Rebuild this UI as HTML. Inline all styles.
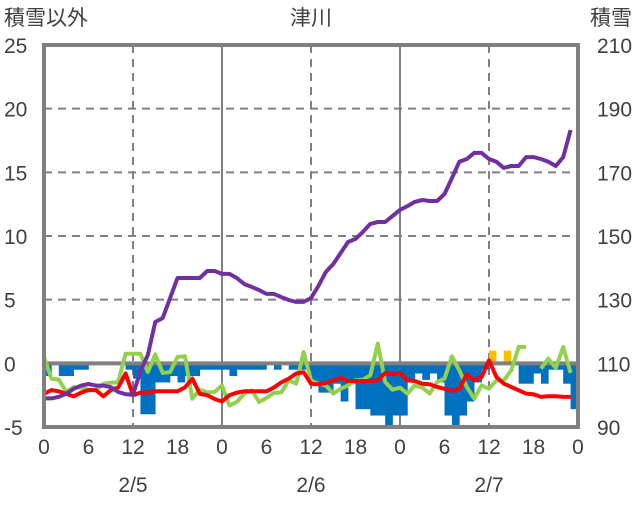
<!DOCTYPE html>
<html><head><meta charset="utf-8"><style>
body{margin:0;background:#fff}
svg text{font-family:"Liberation Sans","Noto Sans CJK JP",sans-serif;fill:#404040;font-size:21px}
</style></head><body>
<svg id="chart" width="636" height="501" xmlns="http://www.w3.org/2000/svg"></svg>
<script>
const hours = Array.from({length:72},(_,i)=>i);
const leftTicks = [-5,0,5,10,15,20,25];
const rightTicks = [90,110,130,150,170,190,210];
const hourLabels = ["0","6","12","18","0","6","12","18","0","6","12","18","0"];
const dateLabels = ["2/5","2/6","2/7"];
const snowDepth = [99,99,99.5,100.5,102,103,103.5,103,103,102.5,101,100.3,100.1,107.5,112.6,123,124.2,130.5,136.8,136.8,136.8,136.8,139,139,138.1,138.1,136.8,134.9,134,133,131.8,131.8,130.8,129.9,129.3,129.3,130.5,134.3,138.7,141.2,144.7,148.1,149.1,151.3,153.8,154.4,154.4,156.3,158.2,159.4,160.7,161.3,161,161,163.2,168.2,173.3,174.2,176.1,176.1,174.2,173.3,171.4,172,172,174.8,174.8,174.2,173.3,172,174.8,183.3];
const temperature = [-2.4,-2.1,-2.2,-2.4,-2.6,-2.3,-2.1,-2.1,-2.6,-2.1,-1.9,-0.8,-2.5,-2.3,-2.3,-2.2,-2.2,-2.2,-2.2,-1.9,-1.2,-2.4,-2.5,-2.8,-3.0,-2.5,-2.3,-2.2,-2.2,-2.2,-2.2,-1.9,-1.5,-1.2,-0.8,-0.7,
-1.6,-1.65,-1.55,-1.34,-1.15,-1.39,-1.39,-1.39,-1.39,-1.34,-0.76,-0.87,-0.76,-1.34,-1.39,-1.6,-1.65,-1.86,-2.0,-2.17,-2.0,-0.87,-1.34,-1.07,0.24,-1.07,-1.6,-1.86,-2.12,-2.38,-2.43,-2.64,-2.59,-2.59,-2.64,-2.64];
const greenSeries = [0.5,-1.2,-1.28,-2.25,-1.86,-1.91,-2.07,-2.12,-1.6,-1.52,-1.47,0.76,0.76,0.76,-0.68,0.71,-0.76,-0.68,0.5,0.55,-2.77,-2.07,-2.28,-2.25,-1.73,-3.3,-3.04,-2.38,-2.12,-3.04,-2.72,-2.33,-2.28,-1.34,-1.6,0.89,
-1.34,-1.6,-1.73,-2.38,-1.99,-1.73,-1.34,-1.28,-0.94,1.55,-1.47,-2.07,-1.91,-2.38,-1.73,-1.91,-2.38,-1.47,-1.2,0.55,-0.55,-1.86,-2.77,-1.73,-1.99,-1.34,-1.34,-0.55,1.28,1.28,null,-0.42,0.37,-0.35,1.28,-0.76];
const snowChange = [-1,0,-1,-1,-0.5,-0.5,0,0,0,0,0,-0.5,-1.2,-4,-4,-1.5,-1.5,-1,-1.5,-1,-1,-0.5,-0.5,-0.5,-0.5,-1,-0.5,-0.5,-0.5,-0.5,0,-0.5,0,-0.5,-0.5,-0.5,
-1.6,-2.3,-2.3,-1.6,-3,-1.6,-3.6,-3.6,-4.1,-4.1,-5.5,-4.1,-4.1,-1.3,-0.8,-1.3,-0.8,-1.5,-4.1,-4.9,-4.1,-3,-1.5,-0.5,0,0,0,0,-1.6,-1.6,-0.8,-1.6,-0.5,-0.5,-1.6,-3.6];
const snowfall = [0,0,0,0,0,0,0,0,0,0,0,0,0,0,0,0,0,0,0,0,0,0,0,0,0,0,0,0,0,0,0,0,0,0,0,0,0,0,0,0,0,0,0,0,0,0,0,0,0,0,0,0,0,0,0,0,0,0,0,0,1.0,0,1.0,0,0,0,0,0,0,0,0,0];

const X0=44,X1=578,Y0=45,Y1=427;
const xs=h=>X0+(X1-X0)*h/72;
const yl=v=>Y1-(v+5)*(Y1-Y0)/30;
const yr=v=>Y1-(v-90)*(Y1-Y0)/120;
const svg=document.getElementById('chart');
const NS='http://www.w3.org/2000/svg';
function mk(tag,at,parent){const e=document.createElementNS(NS,tag);for(const k in at)e.setAttribute(k,at[k]);(parent||svg).appendChild(e);return e;}

[5,10,15,20].forEach(v=>{const l=mk('line',{x1:X0,x2:X1,y1:yl(v),y2:yl(v),stroke:'#808080','stroke-width':2,'stroke-dasharray':'8,6'});

});
[12,36,60].forEach(h=>{const l=mk('line',{x1:xs(h),x2:xs(h),y1:Y0,y2:Y1,stroke:'#808080','stroke-width':2,'stroke-dasharray':'8,6'});

});
[24,48].forEach(h=>{const l=mk('line',{x1:xs(h),x2:xs(h),y1:Y0,y2:Y1,stroke:'#808080','stroke-width':2});

});

const bw=(X1-X0)/72;
snowChange.forEach((v,i)=>{if(!v)return;const vv=Math.max(v,-5);const r=mk('rect',{x:xs(i),y:yl(0),width:bw+0.3,height:yl(vv)-yl(0),fill:'#0070C0'});

});
snowfall.forEach((v,i)=>{if(!v)return;const r=mk('rect',{x:xs(i),y:yl(v),width:bw,height:yl(0)-yl(v),fill:'#FFC000'});

});

const z=mk('line',{x1:X0,x2:X1,y1:yl(0),y2:yl(0),stroke:'#808080','stroke-width':4});



function line(arr,yf,color,name){let d='',pen=false;arr.forEach((v,i)=>{if(v===null){pen=false;return;}d+=(pen?'L':'M')+xs(i).toFixed(1)+' '+yf(v).toFixed(1);pen=true;});
const p=mk('path',{d:d,fill:'none',stroke:color,'stroke-width':4,'stroke-linejoin':'round'});

}
line(greenSeries,yl,'#92D050','green-series-line');
line(temperature,yl,'#FF0000','temperature-line');
line(snowDepth,yr,'#7030A0','snow-depth-line');

const f=mk('rect',{x:X0,y:Y0,width:X1-X0,height:Y1-Y0,fill:'none',stroke:'#808080','stroke-width':4});



leftTicks.forEach(v=>{const t=mk('text',{x:4,y:yl(v)+8});t.textContent=v;

});
rightTicks.forEach(v=>{const t=mk('text',{x:597,y:yr(v)+8});t.textContent=v;

});
hourLabels.forEach((s,i)=>{const t=mk('text',{x:xs(i*6),y:454,'text-anchor':'middle'});t.textContent=s;

});
dateLabels.forEach((s,i)=>{const t=mk('text',{x:xs(12+24*i),y:492,'text-anchor':'middle'});t.textContent=s;

});
[['積雪以外',4,'start','left-axis-title'],['津川',311,'middle','chart-title'],['積雪',590,'start','right-axis-title']].forEach(a=>{
const t=mk('text',{x:a[1],y:25,'text-anchor':a[2]});t.textContent=a[0];

});
</script>
</body></html>
